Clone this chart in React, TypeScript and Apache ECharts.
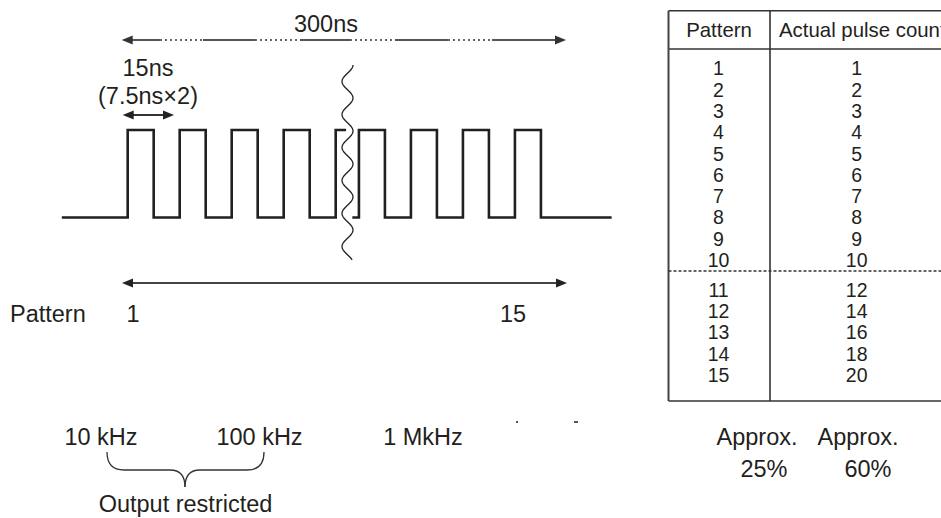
import React, { useEffect, useRef } from "react";
import * as echarts from "echarts";

// Waveform (time in ns, level 0/1) — left part before the break, right part after it
const leftPulse: [number, number][] = [
  [-19, 0], [0, 1], [7.5, 0], [15, 1], [22.5, 0], [30, 1], [37.5, 0], [45, 1], [52.5, 0], [60, 1], [63, 1],
];
const rightPulse: [number, number][] = [
  [64.8, 0], [66.7, 1], [74.2, 0], [81.7, 1], [89.2, 0], [96.7, 1], [104.2, 0], [111.7, 1], [119.2, 0], [139.6, 0],
];

// Table
const tableHeaders = ["Pattern", "Actual pulse count"];
const tablePatterns = [1, 2, 3, 4, 5, 6, 7, 8, 9, 10, 11, 12, 13, 14, 15];
const tablePulseCounts = [1, 2, 3, 4, 5, 6, 7, 8, 9, 10, 12, 14, 16, 18, 20];

// Labels
const periodLabel = "300ns";
const pulseLabel = ["15ns", "(7.5ns×2)"];
const patternRange = ["1", "15"];
const freqLabels = ["10 kHz", "100 kHz", "1 MkHz"];
const approxTop = ["Approx.", "Approx."];
const approxBottom = ["25%", "60%"];
const restrictedLabel = "Output restricted";

const FONT = '"Liberation Sans", Arial, Helvetica, sans-serif';
const INK = "#231f20";
const MAIN = 23.5;

function arrowHead(tipX: number, y: number, dir: number, color: string) {
  const len = 11;
  const half = 4.5;
  return {
    type: "polygon",
    shape: { points: [[tipX, y], [tipX - dir * len, y - half], [tipX - dir * len, y + half]] },
    style: { fill: color },
  };
}

function hLine(x1: number, x2: number, y: number, color: string, w: number, dash?: number[]) {
  return {
    type: "line",
    shape: { x1, y1: y, x2, y2: y },
    style: { stroke: color, lineWidth: w, lineDash: dash },
  };
}
function vLine(x: number, y1: number, y2: number, color: string, w: number) {
  return {
    type: "line",
    shape: { x1: x, y1, x2: x, y2 },
    style: { stroke: color, lineWidth: w },
  };
}
function txt(text: string, x: number, y: number, size: number, align = "center") {
  return {
    type: "text",
    x,
    y,
    style: { text, fill: INK, font: `${size}px ${FONT}`, align, verticalAlign: "middle" },
  };
}

export default function App() {
  const ref = useRef<HTMLDivElement>(null);
  useEffect(() => {
    if (!ref.current) return;
    const chart = echarts.init(ref.current, undefined, { renderer: "svg" });

    const g: any[] = [];

    // 300ns arrow (solid / dotted alternation)
    const y300 = 40;
    const solids = [[129, 160], [203, 255], [300, 350], [395, 448], [492, 558]];
    const dots = [[160, 203], [255, 300], [350, 395], [448, 492]];
    solids.forEach(([a, b]) => g.push(hLine(a, b, y300, "#555", 2)));
    dots.forEach(([a, b]) => g.push(hLine(a, b, y300, "#666", 2, [2, 3])));
    g.push(arrowHead(121.7, y300, -1, "#333"));
    g.push(arrowHead(566, y300, 1, "#333"));
    g.push(txt(periodLabel, 326, 24, MAIN));

    // 15ns arrow
    g.push(txt(pulseLabel[0], 148, 68, MAIN));
    g.push(txt(pulseLabel[1], 148, 95.5, MAIN));
    g.push(hLine(130, 166, 115, "#333", 2));
    g.push(arrowHead(122.7, 115, -1, "#222"));
    g.push(arrowHead(174, 115, 1, "#222"));

    // wavy break line
    const wave: number[][] = [];
    for (let y = 65; y <= 260; y += 1.5) {
      wave.push([347.5 + 5.5 * Math.sin(((y - 65) / 33) * 2 * Math.PI + Math.PI / 2), y]);
    }
    g.push({ type: "polyline", shape: { points: wave }, style: { stroke: "#222", lineWidth: 1.3, fill: null } });

    // Pattern arrow
    const yPat = 283;
    g.push(hLine(130, 559, yPat, "#444", 2));
    g.push(arrowHead(122, yPat, -1, "#222"));
    g.push(arrowHead(567, yPat, 1, "#222"));
    g.push(txt("Pattern", 10, 314, MAIN, "left"));
    g.push(txt(patternRange[0], 133, 314, MAIN));
    g.push(txt(patternRange[1], 513, 314, MAIN));

    // Table
    const tL = 668.5, tR = 945, tTop = 10.7, tHead = 49, tBot = 401, tDiv = 770, tDash = 271;
    g.push(hLine(tL, tR, tTop, "#333", 1.6));
    g.push(hLine(tL, tR, tHead, "#333", 1.6));
    g.push(hLine(tL, tR, tBot, "#333", 1.6));
    g.push(vLine(tL, tTop, tBot, "#444", 2));
    g.push(vLine(tDiv, tTop, tBot, "#333", 1.6));
    g.push(hLine(tL, tR, tDash, "#333", 1.3, [3, 2]));
    g.push(txt(tableHeaders[0], 719, 30, 20.4));
    g.push(txt(tableHeaders[1], 779, 30, 20.4, "left"));
    tablePatterns.forEach((p, i) => {
      const y = i < 10 ? 68.3 + i * 21.3 : 290 + (i - 10) * 21.2;
      g.push(txt(String(p), 718.5, y, 19.5));
      g.push(txt(String(tablePulseCounts[i]), 856.7, y, 19.5));
    });

    // Bottom labels
    const freqX = [101, 259.5, 423];
    freqLabels.forEach((f, i) => g.push(txt(f, freqX[i], 437, MAIN)));
    g.push({ type: "rect", shape: { x: 516, y: 421, width: 2, height: 2 }, style: { fill: "#555" } });
    g.push({ type: "rect", shape: { x: 574, y: 421, width: 4, height: 2 }, style: { fill: "#555" } });
    const apX = [757, 858];
    const pctX = [764, 868];
    approxTop.forEach((a, i) => g.push(txt(a, apX[i], 437, MAIN)));
    approxBottom.forEach((a, i) => g.push(txt(a, pctX[i], 469, MAIN)));

    // Brace
    const bs = { stroke: "#333", lineWidth: 1.3, fill: null };
    g.push({ type: "bezierCurve", shape: { x1: 107, y1: 452, cpx1: 107, cpy1: 470, x2: 124, y2: 470 }, style: bs });
    g.push(hLine(124, 170, 470, "#333", 1.3));
    g.push({ type: "bezierCurve", shape: { x1: 170, y1: 470, cpx1: 185, cpy1: 470, x2: 185, y2: 487 }, style: bs });
    g.push({ type: "bezierCurve", shape: { x1: 185, y1: 487, cpx1: 185, cpy1: 470, x2: 200, y2: 470 }, style: bs });
    g.push(hLine(200, 247, 470, "#333", 1.3));
    g.push({ type: "bezierCurve", shape: { x1: 247, y1: 470, cpx1: 264, cpy1: 470, x2: 264, y2: 452 }, style: bs });
    g.push(txt(restrictedLabel, 185.5, 504, MAIN));

    chart.setOption({
      animation: false,
      grid: { left: 0, right: 0, top: 0, bottom: 0, containLabel: false },
      xAxis: { type: "value", min: -36.83, max: 234.6, show: false },
      yAxis: { type: "value", min: -3.434, max: 2.486, show: false },
      series: [
        {
          type: "line",
          data: leftPulse,
          step: "end",
          symbol: "none",
          lineStyle: { color: INK, width: 2.6, join: "miter" },
          z: 1,
        },
        {
          type: "line",
          data: rightPulse,
          step: "end",
          symbol: "none",
          lineStyle: { color: INK, width: 2.6, join: "miter" },
          z: 1,
        },
      ],
      graphic: { elements: g },
    });
    return () => chart.dispose();
  }, []);
  return (
    <div
      ref={ref}
      style={{ position: "fixed", left: 0, top: 0, width: 941, height: 518, background: "#fff" }}
    />
  );
}
